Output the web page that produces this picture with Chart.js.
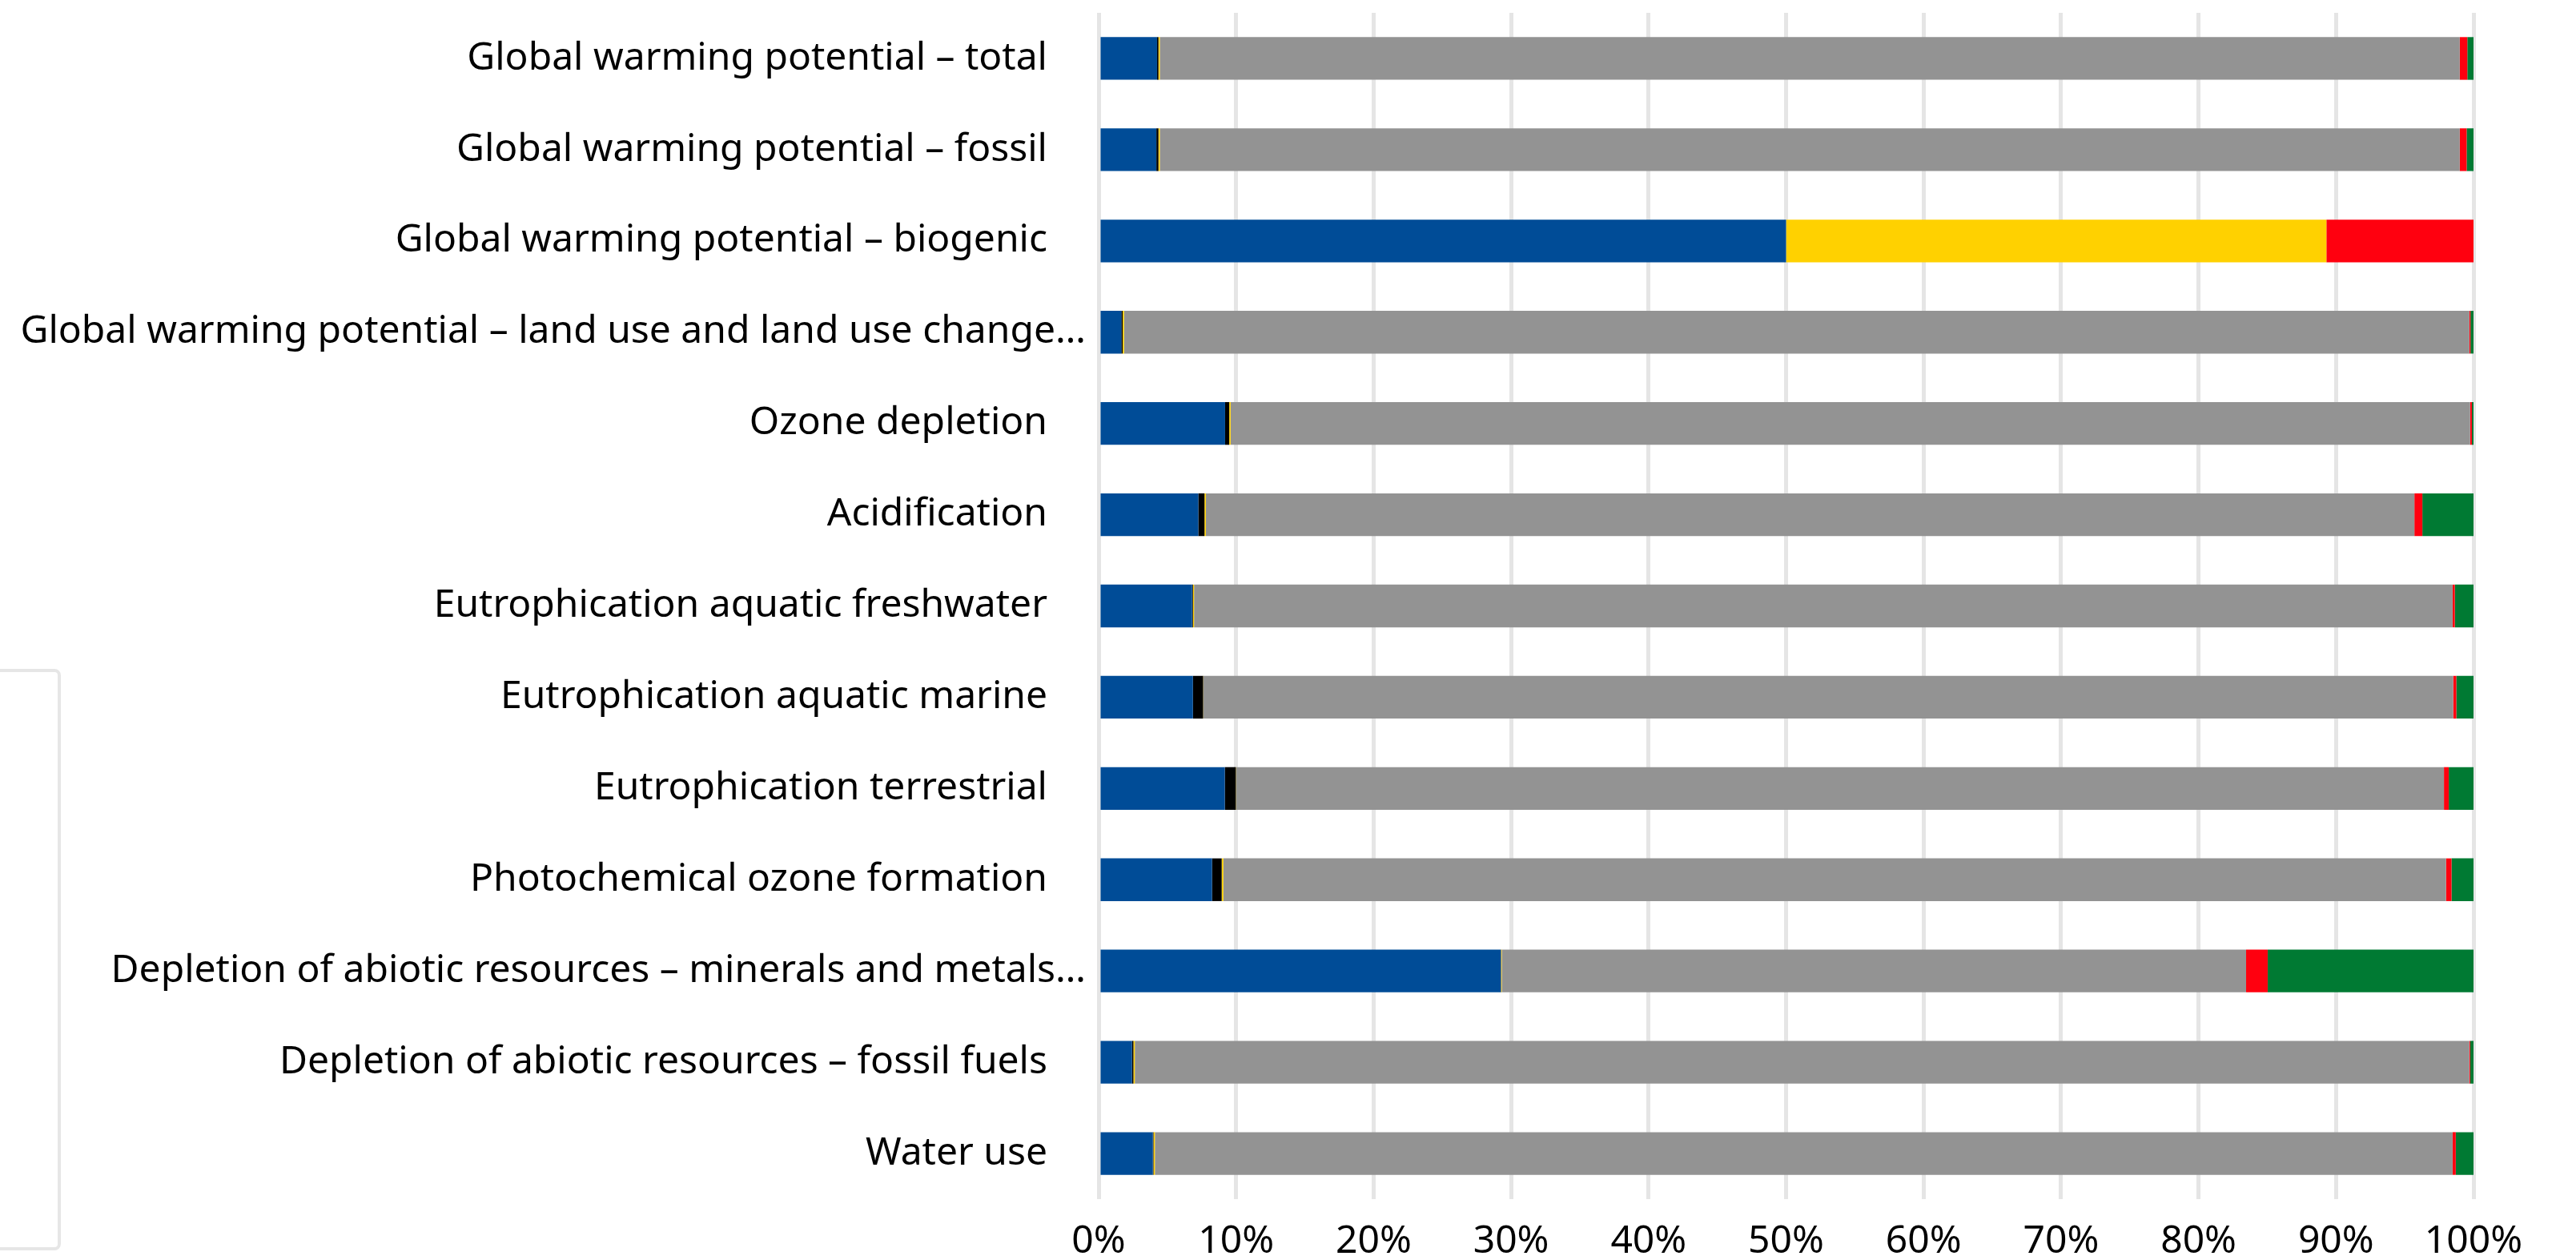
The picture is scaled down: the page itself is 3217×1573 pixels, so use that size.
<!DOCTYPE html>
<html>
<head>
<meta charset="utf-8">
<script src="https://cdn.jsdelivr.net/npm/chart.js@4"></script>
<style>
  html, body { margin: 0; padding: 0; background: #fff; overflow: hidden; }
  #wrap { position: relative; width: 3217px; height: 1573px; }
  #legendBox {
    position: absolute; left: -20px; top: 835px; width: 88px; height: 718px;
    border: 4px solid #e6e6e6; border-radius: 8px; box-sizing: content-box;
  }
</style>
</head>
<body>
<div id="wrap">
  <canvas id="myChart"></canvas>
  <div id="legendBox"></div>
</div>
<script>
// categories shown on the y axis (top to bottom)
var categories = [
    'Global warming potential – total',
    'Global warming potential – fossil',
    'Global warming potential – biogenic',
    'Global warming potential – land use and land use change…',
    'Ozone depletion',
    'Acidification',
    'Eutrophication aquatic freshwater',
    'Eutrophication aquatic marine',
    'Eutrophication terrestrial',
    'Photochemical ozone formation',
    'Depletion of abiotic resources – minerals and metals…',
    'Depletion of abiotic resources – fossil fuels',
    'Water use'
];

// share of each stage in %, one value per category
var stage1 = [4.25, 4.2, 50, 1.65, 9.2, 7.25, 6.8, 6.86, 9.18, 8.25, 29.25, 2.43, 3.94];
var stage2 = [0.1, 0.15, 0, 0.1, 0.3, 0.45, 0.06, 0.74, 0.8, 0.7, 0.02, 0.1, 0.05];
var stage3 = [0.1, 0.1, 39.3, 0.1, 0.1, 0.1, 0.08, 0.02, 0.02, 0.12, 0.05, 0.1, 0.1];
var stage4 = [94.55, 94.55, 0, 97.85, 90.15, 87.9, 91.54, 90.9, 87.85, 88.93, 54.14, 97.07, 94.39];
var stage5 = [0.55, 0.5, 10.7, 0.08, 0.13, 0.58, 0.16, 0.23, 0.35, 0.4, 1.57, 0.06, 0.23];
var stage6 = [0.45, 0.5, 0, 0.22, 0.12, 3.72, 1.36, 1.25, 1.8, 1.6, 14.97, 0.24, 1.29];

var xTicks = [0, 10, 20, 30, 40, 50, 60, 70, 80, 90, 100];

var font = { family: 'Noto Sans', size: 48, lineHeight: 1 };

function series(label, data, color) {
    return {
        label: label,
        data: data,
        backgroundColor: color,
        borderWidth: 0,
        categoryPercentage: 1,
        barPercentage: 0.468
    };
}

var ctx = document.getElementById('myChart').getContext('2d');
var myChart = new Chart(ctx, {
    type: 'bar',
    data: {
        labels: categories,
        datasets: [
            series('Stage 1', stage1, '#004c97'),
            series('Stage 2', stage2, '#000000'),
            series('Stage 3', stage3, '#ffd100'),
            series('Stage 4', stage4, '#939393'),
            series('Stage 5', stage5, '#ff000f'),
            series('Stage 6', stage6, '#007a33')
        ]
    },
    options: {
        indexAxis: 'y',
        responsive: true,
        maintainAspectRatio: false,
        animation: false,
        layout: {
            padding: { top: 16, right: 128, bottom: 0, left: 0 }
        },
        plugins: {
            legend: { display: false },
            tooltip: { enabled: false }
        },
        scales: {
            x: {
                stacked: true,
                min: 0,
                max: 100,
                afterBuildTicks: function (scale) {
                    scale.ticks = xTicks.map(function (v) { return { value: v }; });
                },
                afterFit: function (scale) { scale.height = 76; },
                ticks: {
                    color: '#000',
                    font: font,
                    padding: 29,
                    maxRotation: 0,
                    callback: function (v) { return v + '%'; }
                },
                grid: {
                    color: '#e5e5e5',
                    lineWidth: 5,
                    drawTicks: false
                },
                border: { display: false }
            },
            y: {
                stacked: true,
                afterFit: function (scale) {
                    scale.width = 1372;
                    scale.paddingTop = 0;
                    scale.paddingBottom = 0;
                },
                ticks: {
                    color: '#000',
                    font: font,
                    padding: 16,
                    autoSkip: false,
                    callback: function (v, i) {
                        var t = categories[i];
                        // full labels sit a bit further from the axis than the cut ones
                        return t.slice(-1) === '…' ? t : t + '\u2003';
                    }
                },
                grid: { display: false, drawTicks: false },
                border: { display: false }
            }
        }
    }
});
</script>
</body>
</html>
